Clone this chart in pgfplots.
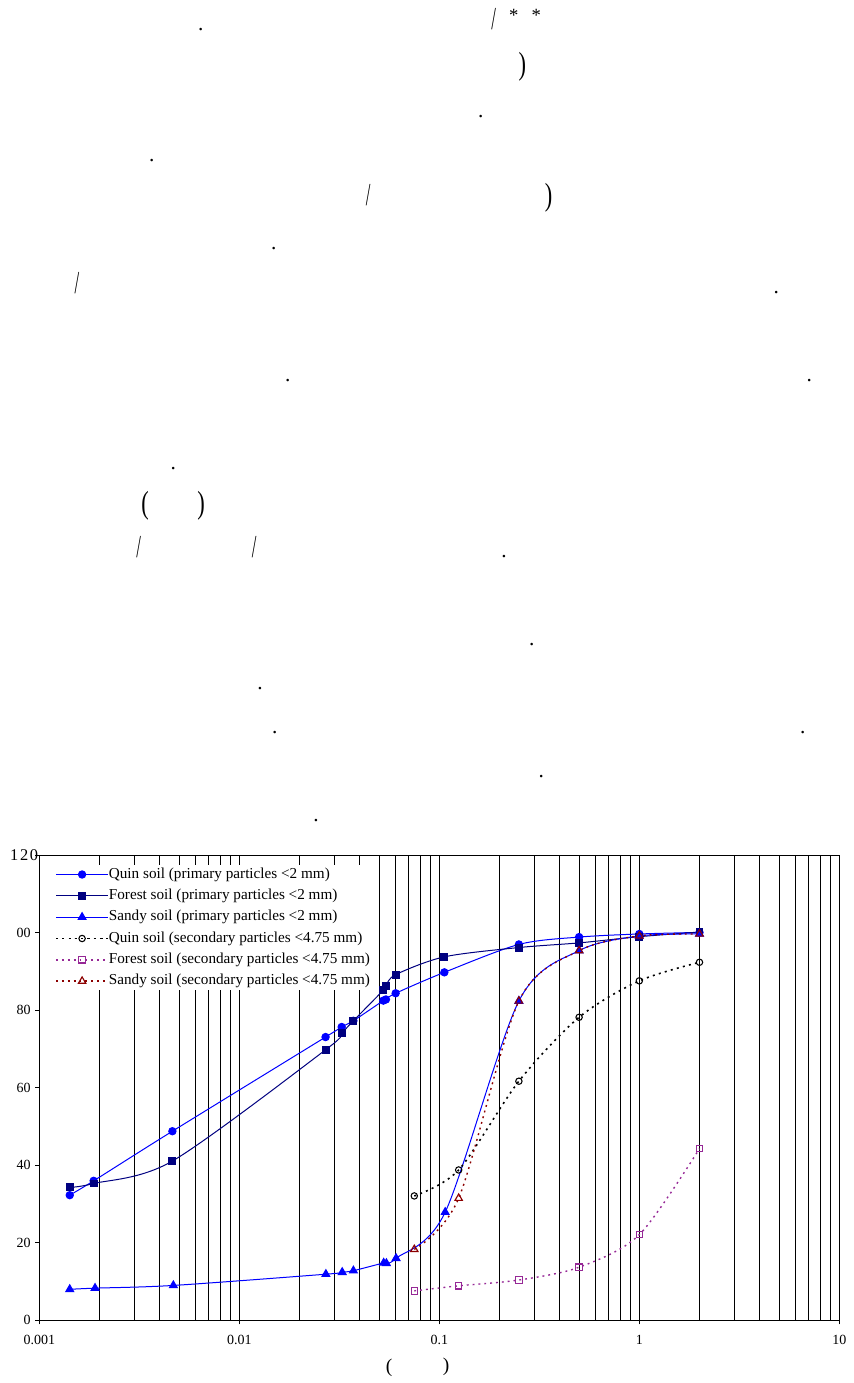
\documentclass[border=0pt]{standalone}
\usepackage{pgfplots}
\pgfplotsset{compat=1.18}
\usepackage{fontspec}
\setmainfont{Liberation Serif}
\usepackage{graphicx}

\definecolor{quinblue}{RGB}{0,0,255}
\definecolor{forestnavy}{RGB}{0,0,128}
\definecolor{secpurple}{RGB}{150,40,150}
\definecolor{secred}{RGB}{140,0,0}

\newcommand{\bodyfont}{\fontsize{24}{28}\selectfont}
\newcommand{\dotfont}{\fontsize{16}{18}\selectfont}
\newcommand{\tslash}{\scalebox{0.52}[1]{/}}
\newcommand{\tlp}{\scalebox{0.7}[1]{(}}
\newcommand{\trp}{\scalebox{0.7}[1]{)}}

\begin{document}
\begin{tikzpicture}
% page laid out in pixel units, y running downwards
\begin{scope}[x=0.75pt,y=-0.75pt]
  \path[use as bounding box] (0,0) rectangle (853,1383);
  \coordinate (axSW) at (39.3,1320.3);
  \tikzset{pu/.style={inner sep=0pt, anchor=center}}
  % punctuation of the text block above the figure
  \node[pu,font=\dotfont] at (200.7,29.3) {.};
  \node[pu,font=\bodyfont] at (493.7,19.3) {\tslash};
  \node[inner sep=0pt,anchor=north,font=\fontsize{14}{16}\selectfont] at (513.7,9.3) {*};
  \node[inner sep=0pt,anchor=north,font=\fontsize{14}{16}\selectfont] at (536.3,9.3) {*};
  \node[pu,font=\bodyfont] at (522.3,66.5) {\trp};
  \node[pu,font=\dotfont] at (480.7,116.3) {.};
  \node[pu,font=\dotfont] at (151.7,160.3) {.};
  \node[pu,font=\bodyfont] at (368.3,195.2) {\tslash};
  \node[pu,font=\bodyfont] at (548.7,198) {\trp};
  \node[pu,font=\dotfont] at (273.7,248.3) {.};
  \node[pu,font=\bodyfont] at (77,283.5) {\tslash};
  \node[pu,font=\dotfont] at (776.3,292.3) {.};
  \node[pu,font=\dotfont] at (287.7,380.3) {.};
  \node[pu,font=\dotfont] at (809.3,380.3) {.};
  \node[pu,font=\dotfont] at (173.3,468.3) {.};
  \node[pu,font=\bodyfont] at (145,506) {\tlp};
  \node[pu,font=\bodyfont] at (201,506) {\trp};
  \node[pu,font=\bodyfont] at (138.7,546.8) {\tslash};
  \node[pu,font=\bodyfont] at (254.3,546.8) {\tslash};
  \node[pu,font=\dotfont] at (504,556.3) {.};
  \node[pu,font=\dotfont] at (531.7,644.3) {.};
  \node[pu,font=\dotfont] at (260,688.3) {.};
  \node[pu,font=\dotfont] at (274.7,732.3) {.};
  \node[pu,font=\dotfont] at (802.7,732.3) {.};
  \node[pu,font=\dotfont] at (541.3,776.3) {.};
  \node[pu,font=\dotfont] at (316,820.3) {.};
  % x-axis title brackets
  \node[pu,font=\fontsize{14.6}{17}\selectfont] at (389,1368.3) {(};
  \node[pu,font=\fontsize{14.6}{17}\selectfont] at (446,1367.3) {)};
\end{scope}

\begin{axis}[
  at={(axSW)}, anchor=south west,
  scale only axis, width=600pt, height=348.75pt,
  xmode=log, xmin=0.001, xmax=10, ymin=0, ymax=120,
  xtick={0.001,0.01,0.1,1,10},
  xticklabels={0.001,0.01,0.1,1,10},
  minor xtick={0.002,0.003,0.004,0.005,0.006,0.007,0.008,0.009,
               0.02,0.03,0.04,0.05,0.06,0.07,0.08,0.09,
               0.2,0.3,0.4,0.5,0.6,0.7,0.8,0.9,
               2,3,4,5,6,7,8,9},
  ytick={0,20,40,60,80,100,120},
  yticklabels={0,20,40,60,80,00,{\fontsize{12.3}{14}\selectfont 1\kern1.3pt2\kern1.3pt0\kern-5.7pt}},
  xmajorgrids=true, xminorgrids=true,
  major grid style={black, line width=0.55pt},
  minor grid style={black, line width=0.55pt},
  axis line style={black, line width=0.8pt},
  tick align=outside, xtick pos=left, ytick pos=left,
  major tick length=3pt, minor tick length=0pt,
  tick style={black, line width=0.6pt},
  ticklabel style={font=\fontsize{10.5}{12}\selectfont},
  xticklabel style={yshift=-4.5pt},
  legend style={
    at={(0,1)}, anchor=north west, xshift=8.8pt, yshift=-7.4pt,
    draw=none, fill=white,
    inner xsep=3pt, inner ysep=1.5pt,
    font=\fontsize{11.4}{13}\selectfont,
    row sep=5.4pt,
    nodes={inner sep=0pt, text height=8pt, text depth=2.6pt},
    /tikz/every even column/.append style={column sep=2.5pt},
  },
  legend cell align=left,
  legend image code/.code={
    \draw[mark repeat=2,mark phase=2,#1] plot coordinates {(0pt,0pt) (19.5pt,0pt) (39pt,0pt)};
  },
]

% primary particles (<2 mm), sieve and hydrometer
\addplot[color=quinblue, line width=0.75pt, smooth, tension=0.5,
  mark=*, mark size=2.75pt, mark options={solid, fill=quinblue}]
coordinates {
  (0.00142,32.3) (0.00187,36.0) (0.00463,48.8) (0.0270,73.1) (0.0325,75.7)
  (0.0372,77.3) (0.0525,82.5) (0.0541,82.8) (0.0605,84.4) (0.106,89.8)
  (0.25,97.0) (0.5,98.9) (1,99.7) (2,100.1)
};
\addlegendentry{Quin soil (primary particles <2 mm)}

\addplot[color=forestnavy, line width=0.75pt, smooth, tension=0.5,
  mark=square*, mark size=2.6pt, mark options={solid, fill=forestnavy}]
coordinates {
  (0.00142,34.3) (0.00187,35.3) (0.00463,41.1) (0.0270,69.8) (0.0325,74.1)
  (0.0372,77.3) (0.0525,85.2) (0.0541,86.3) (0.0605,89.2) (0.106,93.8)
  (0.25,96.2) (0.5,97.4) (1,99.0) (2,100.2)
};
\addlegendentry{Forest soil (primary particles <2 mm)}

\addplot[color=quinblue, line width=0.75pt, smooth, tension=0.5,
  mark=triangle*, mark size=3.4pt, mark options={solid, fill=quinblue}]
coordinates {
  (0.00142,8.0) (0.00190,8.3) (0.00468,9.0) (0.0271,11.9) (0.0327,12.4)
  (0.0372,12.8) (0.0527,14.8) (0.0544,14.7) (0.0608,16.0) (0.107,27.9)
  (0.25,82.4) (0.5,95.4) (1,99.2) (2,99.7)
};
\addlegendentry{Sandy soil (primary particles <2 mm)}

% secondary particles (<4.75 mm), dry sieving
\addplot[color=black, line width=1.2pt, dash pattern=on 1.5pt off 3.2pt,
  smooth, tension=0.5,
  mark=o, mark size=2.4pt, mark options={solid, line width=0.8pt}]
coordinates {
  (0.075,32.1) (0.125,38.8) (0.25,61.7) (0.5,78.2) (1,87.6) (2,92.4)
};
\addlegendentry{Quin soil (secondary particles <4.75 mm)}

\addplot[color=secpurple, line width=1.05pt, dash pattern=on 1.4pt off 3pt,
  smooth, tension=0.5,
  mark=square, mark size=2.4pt, mark options={solid, line width=0.85pt}]
coordinates {
  (0.075,7.6) (0.125,8.9) (0.25,10.4) (0.5,13.7) (1,22.1) (2,44.3)
};
\addlegendentry{Forest soil (secondary particles <4.75 mm)}

\addplot[color=secred, line width=1.05pt, dash pattern=on 1.4pt off 3pt,
  smooth, tension=0.5,
  mark=triangle, mark size=3.2pt, mark options={solid, line width=0.85pt}]
coordinates {
  (0.075,18.3) (0.125,31.5) (0.25,82.4) (0.5,95.4) (1,99.2) (2,99.7)
};
\addlegendentry{Sandy soil (secondary particles <4.75 mm)}

\end{axis}
\end{tikzpicture}
\end{document}
